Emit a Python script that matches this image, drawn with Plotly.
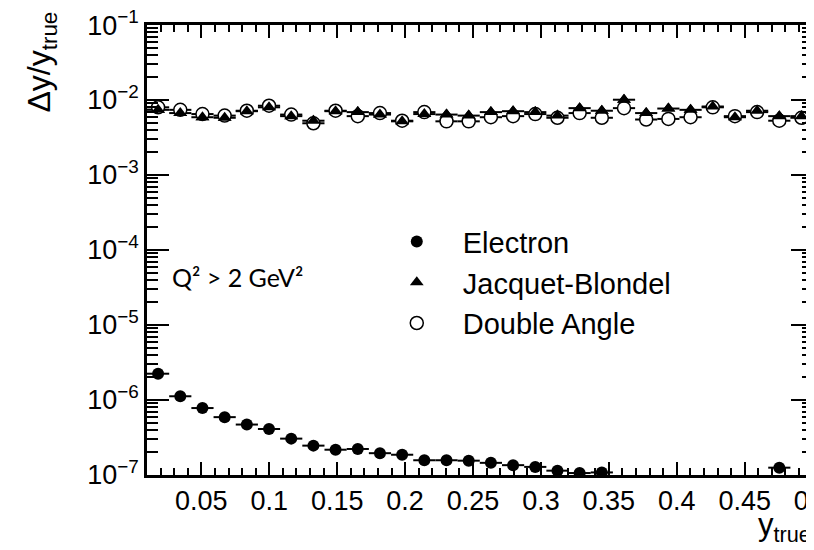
import plotly.graph_objects as go

# bin centres of y_true (30 bins from 0.01 to 0.5)
y_true = [0.01817, 0.03450, 0.05083, 0.06717, 0.08350, 0.09983, 0.11617, 0.13250,
          0.14883, 0.16517, 0.18150, 0.19783, 0.21417, 0.23050, 0.24683, 0.26317,
          0.27950, 0.29583, 0.31217, 0.32850, 0.34483, 0.36117, 0.37750, 0.39383,
          0.41017, 0.42650, 0.44283, 0.45917, 0.47550, 0.49183]
bin_half_width = 0.008167

electron = [2.24e-6, 1.12e-6, 7.8e-7, 5.9e-7, 4.7e-7, 4.1e-7, 3.05e-7, 2.46e-7,
            2.17e-7, 2.22e-7, 1.95e-7, 1.86e-7, 1.57e-7, 1.57e-7, 1.55e-7, 1.45e-7,
            1.35e-7, 1.28e-7, 1.14e-7, 1.06e-7, 1.08e-7, None, None, None,
            None, None, None, None, 1.25e-7, None]

jacquet_blondel = [0.0074, 0.0067, 0.0059, 0.0058, 0.0071, 0.0080, 0.0061, 0.0053,
                   0.0071, 0.0069, 0.0064, 0.0052, 0.0065, 0.0064, 0.0062, 0.0069,
                   0.0071, 0.0069, 0.0062, 0.0078, 0.0072, 0.0101, 0.0067, 0.0077,
                   0.0074, 0.0082, 0.0059, 0.0072, 0.0061, 0.0061]

double_angle = [0.0080, 0.0074, 0.0065, 0.0062, 0.0072, 0.0084, 0.0064, 0.0049,
                0.0072, 0.0061, 0.0067, 0.0053, 0.0069, 0.0052, 0.0052, 0.0059,
                0.0061, 0.0065, 0.0058, 0.0067, 0.0058, 0.0078, 0.0055, 0.0056,
                0.0059, 0.0080, 0.0061, 0.0069, 0.0053, 0.0058]

x_tickvals = [0.05, 0.1, 0.15, 0.2, 0.25, 0.3, 0.35, 0.4, 0.45, 0.5]
x_ticktext = ["0.05", "0.1", "0.15", "0.2", "0.25", "0.3", "0.35", "0.4", "0.45", "0.5"]
y_tickvals = [1e-7, 1e-6, 1e-5, 1e-4, 1e-3, 1e-2, 1e-1]
y_ticktext = ["10<sup>−7</sup>", "10<sup>−6</sup>", "10<sup>−5</sup>", "10<sup>−4</sup>",
              "10<sup>−3</sup>", "10<sup>−2</sup>", "10<sup>−1</sup>"]

FONT = "Liberation Sans, Arial, Helvetica, sans-serif"
errx = dict(type="constant", value=bin_half_width, thickness=2, width=0, color="black")

fig = go.Figure()
fig.add_trace(go.Scatter(x=y_true, y=jacquet_blondel, mode="markers", name="Jacquet-Blondel",
                         marker=dict(symbol="triangle-up", size=12, color="black"),
                         error_x=errx, legendrank=2))
fig.add_trace(go.Scatter(x=y_true, y=double_angle, mode="markers", name="Double Angle",
                         marker=dict(symbol="circle", size=13, color="white",
                                     line=dict(color="black", width=1.5)),
                         error_x=errx, legendrank=3))
fig.add_trace(go.Scatter(x=y_true, y=jacquet_blondel, mode="markers", showlegend=False,
                         marker=dict(symbol="triangle-up", size=12, color="black"),
                         hoverinfo="skip"))
fig.add_trace(go.Scatter(x=y_true, y=electron, mode="markers", name="Electron",
                         marker=dict(symbol="circle", size=12, color="black"),
                         error_x=errx, legendrank=1))

axis_common = dict(showline=True, linecolor="black", linewidth=2.5, mirror="allticks",
                   ticks="inside", tickcolor="black", tickwidth=2, showgrid=False,
                   zeroline=False, ticklabeloverflow="allow", automargin=False,
                   tickfont=dict(family=FONT, size=27, color="black"))

fig.update_xaxes(range=[0.01, 0.5003], tickvals=x_tickvals, ticktext=x_ticktext, ticklen=13,
                 minor=dict(dtick=0.01, tick0=0, ticks="inside", ticklen=7,
                            tickwidth=2, tickcolor="black", showgrid=False),
                 **axis_common)
fig.update_yaxes(type="log", range=[-7.0008, -0.9992], tickvals=y_tickvals, ticktext=y_ticktext,
                 ticklen=22,
                 minor=dict(dtick="D1", ticks="inside", ticklen=11, tickwidth=2,
                            tickcolor="black", showgrid=False),
                 **axis_common)

fig.update_layout(
    width=814, height=550,
    margin=dict(l=139, r=9, t=17, b=83, autoexpand=False),
    plot_bgcolor="white", paper_bgcolor="white",
    showlegend=True,
    legend=dict(x=0.336, y=0.575, xanchor="left", yanchor="top",
                bgcolor="rgba(0,0,0,0)", font=dict(family=FONT, size=29, color="black"),
                itemwidth=82, tracegroupgap=0),
    annotations=[
        dict(text="Δy/y<sub>true</sub>", xref="paper", yref="paper",
             x=-0.158, y=1.035, xanchor="center", yanchor="top", textangle=-90,
             showarrow=False, font=dict(family=FONT, size=32, color="black")),
        dict(text="y<sub>true</sub>", xref="paper", yref="paper",
             x=1.0, y=-0.115, xanchor="right", yanchor="middle",
             showarrow=False, font=dict(family=FONT, size=31, color="black")),
        dict(text="Q² > 2 GeV²", xref="paper", yref="paper",
             x=0.035, y=0.44, xanchor="left", yanchor="middle",
             showarrow=False, font=dict(family="Lato, sans-serif", size=25, color="black")),
    ],
)

fig.write_html("out.html")
